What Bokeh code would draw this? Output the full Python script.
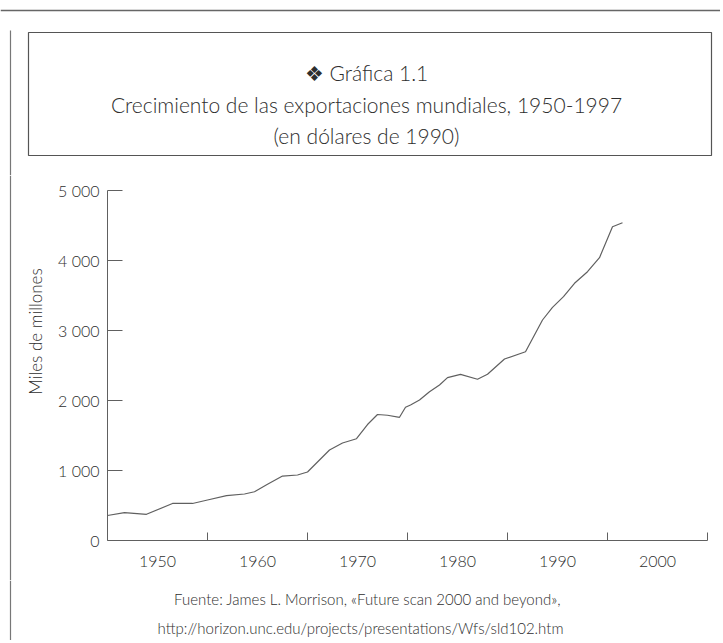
import math
from bokeh.plotting import figure
from bokeh.layouts import column, row
from bokeh.models import Range1d, FixedTicker
from bokeh.core.properties import value
from bokeh.embed import file_html
from bokeh.resources import INLINE

# ---- data ----
years = [1945.0, 1946.7, 1948.9, 1951.5, 1953.5, 1955.0, 1956.9, 1958.7, 1959.7,
         1961.0, 1962.5, 1964.0, 1965.0, 1967.2, 1968.5, 1969.9, 1971.0, 1972.0,
         1973.0, 1974.2, 1974.8, 1975.3, 1976.2, 1977.2, 1978.2, 1979.0, 1980.3,
         1982.0, 1983.0, 1984.7, 1986.8, 1988.5, 1989.5, 1990.6, 1991.7, 1993.0,
         1994.2, 1995.5, 1996.5]
exports = [357, 397, 374, 529, 529, 579, 640, 664, 697,
           803, 921, 936, 979, 1293, 1393, 1454, 1657, 1800,
           1789, 1760, 1903, 1936, 2007, 2126, 2221, 2326, 2374,
           2303, 2374, 2593, 2697, 3150, 3331, 3483, 3674, 3840,
           4040, 4483, 4540]

x_label_years = [1950, 1960, 1970, 1980, 1990, 2000]
x_tick_marks = [1955, 1965, 1975, 1985, 1995, 2005]
y_ticks = [0, 1000, 2000, 3000, 4000, 5000]
y_tick_labels = ["0", "1 000", "2 000", "3 000", "4 000", "5 000"]

title_lines = ["\u2756 Gráfica 1.1",
               "Crecimiento de las exportaciones mundiales, 1950-1997",
               "(en dólares de 1990)"]
y_title = "Miles de millones"
source_lines = ["Fuente: James L. Morrison, «Future scan 2000 and beyond»,",
                "http://horizon.unc.edu/projects/presentations/Wfs/sld102.htm"]

TEXT = "#2e2e2e"
LINE = "#606060"
RULE = "#777777"
FONT = "Lato Light"

W = 720          # total page width used
H = 640          # total page height used
TOP_H = 175      # title strip height
MID_H = 405      # chart strip height
STRIP_W = 50     # left strip beside the chart


def blank(width, x0, x1, y_top, y_bot):
    """A figure whose frame is the whole canvas, in page pixel units (y down)."""
    f = figure(width=width, height=y_bot - y_top, x_range=Range1d(x0, x1),
               y_range=Range1d(y_bot, y_top), output_backend="svg",
               toolbar_location=None, x_axis_location=None, y_axis_location=None,
               min_border=0)
    f.frame_align = False
    f.outline_line_color = None
    f.grid.visible = False
    f.background_fill_color = "white"
    f.border_fill_color = "white"
    return f


# ---- title area ----
top = blank(W, 0, W, 0, TOP_H)
top.segment(x0=[0], y0=[10], x1=[W], y1=[10], line_color="#666666", line_width=1.6)
top.segment(x0=[10], y0=[30], x1=[10], y1=[TOP_H], line_color=RULE, line_width=1.2)
top.quad(left=[28], right=[711], top=[32], bottom=[155], fill_color=None,
         line_color="#555555", line_width=1.2)
top.text(x=[366, 366, 366], y=[72, 104, 135], text=title_lines, text_align="center",
         text_baseline="alphabetic", text_font=value(FONT), text_font_size="21px",
         text_color=TEXT)

# ---- left strip with the axis title ----
strip = blank(STRIP_W, 0, STRIP_W, TOP_H, TOP_H + MID_H)
strip.segment(x0=[10], y0=[TOP_H], x1=[10], y1=[TOP_H + MID_H], line_color=RULE,
              line_width=1.2)
strip.text(x=[35], y=[331], text=[y_title], angle=math.pi / 2, text_align="center",
           text_baseline="middle", text_font=value(FONT), text_font_size="17px",
           text_color=TEXT)

# ---- chart ----
p = figure(width=W - STRIP_W, height=MID_H, x_range=Range1d(1945, 2005),
           y_range=Range1d(0, 5000), output_backend="svg", toolbar_location=None,
           min_border_left=57, min_border_right=W - STRIP_W - 57 - 600,
           min_border_top=15, min_border_bottom=MID_H - 15 - 350)
p.frame_align = False
p.outline_line_color = None
p.xgrid.grid_line_color = None
p.ygrid.grid_line_color = None
p.background_fill_color = "white"
p.border_fill_color = "white"

p.line(years, exports, line_color=LINE, line_width=1.2)

xa = p.xaxis[0]
xa.ticker = FixedTicker(ticks=x_label_years, minor_ticks=x_tick_marks)
xa.major_tick_in = 0
xa.major_tick_out = 0
xa.minor_tick_in = 8
xa.minor_tick_out = 0
xa.minor_tick_line_color = LINE
xa.axis_line_color = LINE
xa.major_label_text_font = FONT
xa.major_label_text_font_size = "16px"
xa.major_label_text_color = TEXT
xa.major_label_standoff = 15

ya = p.yaxis[0]
ya.ticker = FixedTicker(ticks=y_ticks)
ya.major_label_overrides = {v: s for v, s in zip(y_ticks, y_tick_labels)}
ya.major_tick_in = 15
ya.major_tick_out = 0
ya.major_tick_line_color = LINE
ya.minor_tick_line_color = None
ya.axis_line_color = LINE
ya.major_label_text_font = FONT
ya.major_label_text_font_size = "16px"
ya.major_label_text_color = TEXT
ya.major_label_standoff = 8

# ---- source footer ----
foot = blank(W, 0, W, TOP_H + MID_H, H)
foot.segment(x0=[10], y0=[TOP_H + MID_H], x1=[10], y1=[H], line_color=RULE,
             line_width=1.2)
foot.text(x=[367, 360], y=[598, 627], text=source_lines, text_align="center",
          text_baseline="alphabetic", text_font=value(FONT), text_font_size="15px",
          text_color=TEXT)

layout = column(top, row(strip, p), foot)
open("out.html", "w").write(file_html(layout, INLINE))
